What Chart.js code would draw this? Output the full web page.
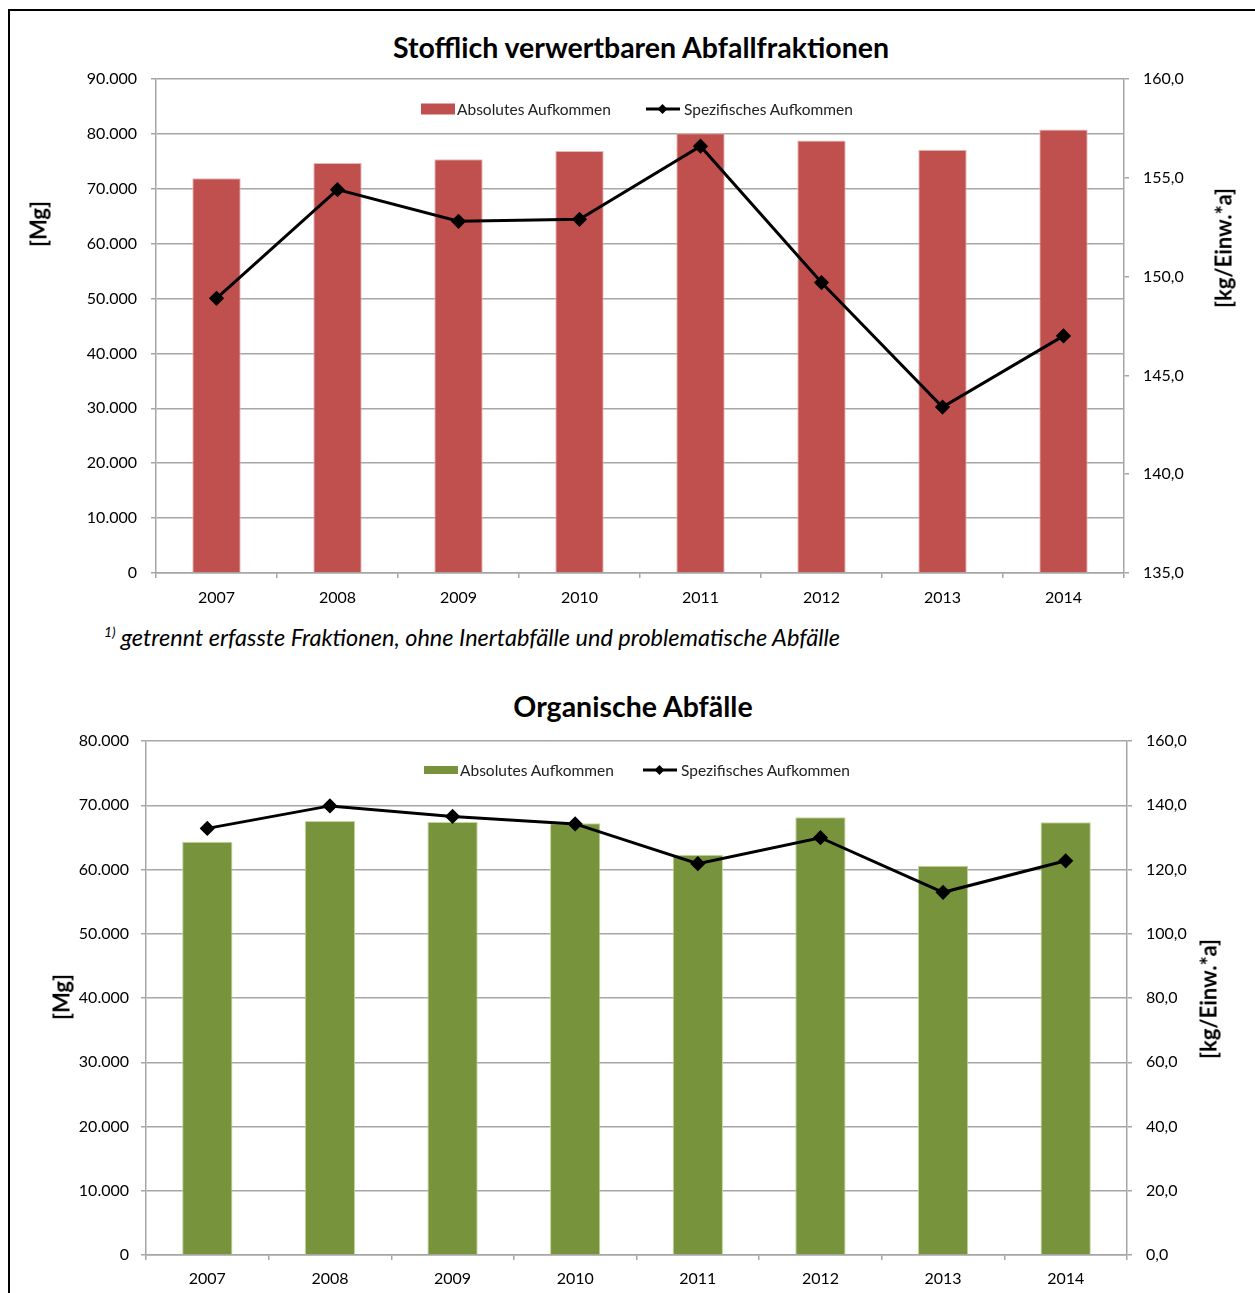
<!DOCTYPE html>
<html>
<head>
<meta charset="utf-8">
<script src="https://cdn.jsdelivr.net/npm/chart.js@4/dist/chart.umd.min.js"></script>
<style>
body{margin:0;background:#fff;font-family:Lato,sans-serif;color:#000;}
#page{position:relative;width:1255px;height:1293px;overflow:hidden;}
#frame{position:absolute;left:8px;top:9px;width:1300px;height:1350px;border-left:2px solid #000;border-top:2px solid #000;}
.box{position:absolute;left:0;width:1255px;}
.title{position:absolute;font-weight:bold;font-size:28.5px;white-space:nowrap;transform:translate(-50%,-50%);}
.ytitle{position:absolute;font-weight:bold;font-size:22px;white-space:nowrap;transform:translate(-50%,-50%) rotate(-90deg);}
.note{position:absolute;left:104px;top:637px;font-style:italic;font-size:23.5px;white-space:nowrap;transform:translateY(-50%);}
.note sup{font-size:14px;margin-right:5px;}
.lg{position:absolute;white-space:nowrap;font-size:15.5px;color:#222;transform:translateY(-50%);}
.lgbox{position:absolute;width:34px;transform:translateY(-50%);}
.lgline{position:absolute;width:34px;height:3px;background:#000;transform:translateY(-50%);}
.lgline i{position:absolute;left:13px;top:-2.5px;width:7px;height:7px;background:#000;transform:rotate(45deg);}
</style>
</head>
<body>
<div id="page">
  <div id="frame"></div>

  <div class="title" style="left:641px;top:47px;">Stofflich verwertbaren Abfallfraktionen</div>
  <div class="box" style="top:0;height:620px;"><canvas id="chart1"></canvas></div>
  <div class="ytitle" style="left:38px;top:224px;">[Mg]</div>
  <div class="ytitle" style="left:1223px;top:248px;">[kg/Einw.*a]</div>
  <div id="legend1"></div>
  <div class="note"><sup>1)</sup>getrennt erfasste Fraktionen, ohne Inertabfälle und problematische Abfälle</div>

  <div class="title" style="left:633px;top:706px;">Organische Abfälle</div>
  <div class="box" style="top:680px;height:613px;"><canvas id="chart2"></canvas></div>
  <div class="ytitle" style="left:61px;top:997px;">[Mg]</div>
  <div class="ytitle" style="left:1208px;top:999px;">[kg/Einw.*a]</div>
  <div id="legend2"></div>
</div>

<script>
// data
const years = ['2007', '2008', '2009', '2010', '2011', '2012', '2013', '2014'];
const seriesNames = ['Absolutes Aufkommen', 'Spezifisches Aufkommen'];

// chart 1 - Stofflich verwertbaren Abfallfraktionen
const stoffAbs = [71900, 74700, 75400, 76900, 80100, 78800, 77100, 80800];
const stoffSpez = [148.9, 154.4, 152.8, 152.9, 156.6, 149.7, 143.4, 147.0];
const stoffMgAxis = [0, 90000, 10000];
const stoffKgAxis = [135, 160, 5];

// chart 2 - Organische Abfälle
const orgAbs = [64300, 67550, 67400, 67200, 62300, 68150, 60600, 67350];
const orgSpez = [132.8, 139.8, 136.5, 134.2, 121.8, 129.9, 112.9, 122.7];
const orgMgAxis = [0, 80000, 10000];
const orgKgAxis = [0, 160, 20];

const red = '#C0504D';
const green = '#77933C';
const gridCol = '#a6a6a6';

Chart.defaults.font.family = 'Lato, sans-serif';
Chart.defaults.font.size = 16;
Chart.defaults.color = '#000';

function fmtMg(v) {
  return String(v).replace(/\B(?=(\d{3})+(?!\d))/g, '.');
}
function fmtKg(v) {
  return v.toFixed(1).replace('.', ',');
}

function legend(id, color, y, x0, x1, h) {
  let el = document.getElementById(id);
  el.innerHTML = `
    <div class="lgbox" style="left:${x0}px;top:${y}px;height:${h}px;background:${color}"></div>
    <div class="lg" style="left:${x0 + 36}px;top:${y}px">${seriesNames[0]}</div>
    <div class="lgline" style="left:${x1}px;top:${y}px"><i></i></div>
    <div class="lg" style="left:${x1 + 38}px;top:${y}px">${seriesNames[1]}</div>`;
}

function makeChart(el, cfg) {
  return new Chart(document.getElementById(el), {
    data: {
      labels: years,
      datasets: [{
        type: 'line',
        label: seriesNames[1],
        data: cfg.spez,
        yAxisID: 'y1',
        borderColor: '#000',
        borderWidth: 3,
        pointStyle: 'rectRot',
        pointRadius: 5.5,
        pointBackgroundColor: '#000',
        pointBorderColor: '#000',
        tension: 0,
        order: 0
      }, {
        type: 'bar',
        label: seriesNames[0],
        data: cfg.abs,
        yAxisID: 'y',
        backgroundColor: cfg.color,
        borderColor: cfg.edge,
        borderWidth: 1,
        categoryPercentage: 1,
        barPercentage: cfg.barPct,
        order: 1
      }]
    },
    options: {
      responsive: true,
      maintainAspectRatio: false,
      animation: false,
      devicePixelRatio: 1,
      layout: { padding: { top: cfg.top, left: 0, right: 0, bottom: 0 } },
      plugins: { legend: { display: false }, tooltip: { enabled: false } },
      scales: {
        x: {
          grid: { offset: true, drawOnChartArea: false, color: gridCol, lineWidth: 1.5, tickLength: 5 },
          border: { color: gridCol, width: 1.5 },
          ticks: { padding: cfg.xPad, maxRotation: 0 },
          afterFit: s => { s.height = cfg.xH; }
        },
        y: {
          position: 'left',
          min: cfg.mg[0], max: cfg.mg[1],
          grid: { color: gridCol, lineWidth: 1.5, tickLength: 5 },
          border: { color: gridCol, width: 1.5 },
          ticks: { stepSize: cfg.mg[2], padding: cfg.lPad, callback: v => fmtMg(v) },
          afterFit: s => { s.width = cfg.leftW; }
        },
        y1: {
          position: 'right',
          min: cfg.kg[0], max: cfg.kg[1],
          grid: { drawOnChartArea: false, color: gridCol, lineWidth: 1.5, tickLength: 5 },
          border: { color: gridCol, width: 1.5 },
          ticks: { stepSize: cfg.kg[2], padding: 14, callback: v => fmtKg(v) },
          afterFit: s => { s.width = cfg.rightW; }
        }
      }
    }
  });
}

// chart 1
makeChart('chart1', {
  abs: stoffAbs, spez: stoffSpez, mg: stoffMgAxis, kg: stoffKgAxis,
  color: red, edge: '#e6b9b8', barPct: 0.4,
  top: 79, xH: 47, xPad: 10, leftW: 156, rightW: 131, lPad: 14
});
legend('legend1', red, 109, 421, 646, 11);

// chart 2
makeChart('chart2', {
  abs: orgAbs, spez: orgSpez, mg: orgMgAxis, kg: orgKgAxis,
  color: green, edge: '#c3d69b', barPct: 0.41,
  top: 61, xH: 38, xPad: 9, leftW: 146, rightW: 128, lPad: 12
});
legend('legend2', green, 770, 424, 643, 8);
</script>
</body>
</html>
